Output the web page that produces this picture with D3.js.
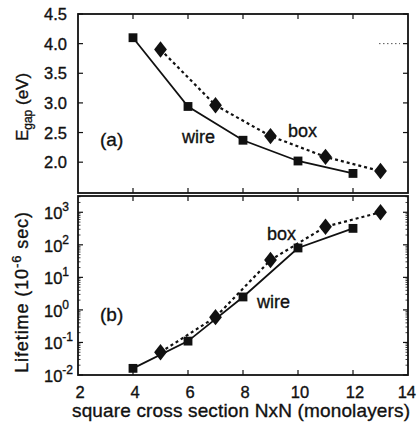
<!DOCTYPE html>
<html><head><meta charset="utf-8">
<script src="https://cdn.jsdelivr.net/npm/d3@7"></script>
<style>
html,body{margin:0;padding:0;background:#fff;}
text{font-family:"Liberation Sans",Arial,sans-serif;fill:#111;stroke:#111;stroke-width:0.35px;}
</style></head><body>
<svg id="c" width="417" height="422"></svg>
<script>
// Data
const wireN = [4, 6, 8, 10, 12];
const boxN = [5, 7, 9, 11, 13];
const wireGap = [4.10, 2.94, 2.37, 2.02, 1.81];
const boxGap = [3.90, 2.96, 2.44, 2.09, 1.85];
const wireLife = [0.016, 0.11, 2.5, 80, 320];
const boxLife = [0.05, 0.6, 34, 360, 1000];
const xTicks = [2, 4, 6, 8, 10, 12, 14];
const gapTicks = [2.0, 2.5, 3.0, 3.5, 4.0, 4.5];
const lifeExp = [-2, -1, 0, 1, 2, 3];

const svg = d3.select("#c");
const L = 78, R = 408;
const topA = 14, botA = 193, topB = 196, botB = 375;

const x = d3.scaleLinear().domain([2, 14]).range([L, R]);
const yA = d3.scaleLinear().domain([1.48, 4.5]).range([botA, topA]);
const yB = d3.scaleLog().domain([1e-2, Math.pow(10, 3.5)]).range([botB, topB]);

const ink = "#111";

function frame(t, b) {
  svg.append("rect").attr("x", L).attr("y", t).attr("width", R - L).attr("height", b - t)
    .attr("fill", "none").attr("stroke", ink).attr("stroke-width", 1.8);
}
frame(topA, botA);
frame(topB, botB);

function xt(t, b) {
  xTicks.slice(1, -1).forEach(v => {
    svg.append("line").attr("x1", x(v)).attr("x2", x(v)).attr("y1", b).attr("y2", b - 5).attr("stroke", ink).attr("stroke-width", 1.2);
    svg.append("line").attr("x1", x(v)).attr("x2", x(v)).attr("y1", t).attr("y2", t + 5).attr("stroke", ink).attr("stroke-width", 1.2);
  });
}
xt(topA, botA);
xt(topB, botB);

svg.selectAll(".xl").data(xTicks).enter().append("text")
  .attr("x", (d, i) => i === xTicks.length - 1 ? 416 : x(d) + 2).attr("y", 398)
  .attr("text-anchor", (d, i) => i === xTicks.length - 1 ? "end" : "middle")
  .attr("font-size", 16.5).text(d => d);
svg.append("text").attr("x", 72).attr("y", 417).attr("font-size", 19).attr("letter-spacing", 0.15)
  .text("square cross section NxN (monolayers)");

gapTicks.forEach(v => {
  svg.append("line").attr("x1", L).attr("x2", L + 5).attr("y1", yA(v)).attr("y2", yA(v)).attr("stroke", ink).attr("stroke-width", 1.2);
  svg.append("line").attr("x1", R).attr("x2", R - 5).attr("y1", yA(v)).attr("y2", yA(v)).attr("stroke", ink).attr("stroke-width", 1.2);
  svg.append("text").attr("x", 67).attr("y", yA(v) + 6).attr("text-anchor", "end")
    .attr("font-size", 16.5).text(d3.format(".1f")(v));
});
svg.append("text").attr("transform", "translate(28,107) rotate(-90)").attr("text-anchor", "middle")
  .attr("font-size", 17)
  .html('E<tspan font-size="12" dy="4">gap</tspan><tspan dy="-4"> (eV)</tspan>');

lifeExp.forEach(e => {
  const v = Math.pow(10, e);
  svg.append("line").attr("x1", L).attr("x2", L + 5).attr("y1", yB(v)).attr("y2", yB(v)).attr("stroke", ink).attr("stroke-width", 1.2);
  svg.append("line").attr("x1", R).attr("x2", R - 5).attr("y1", yB(v)).attr("y2", yB(v)).attr("stroke", ink).attr("stroke-width", 1.2);
  for (let m = 2; m <= 9; m++) {
    const mv = v * m;
    if (mv < Math.pow(10, 3.5)) {
      svg.append("line").attr("x1", L).attr("x2", L + 2.5).attr("y1", yB(mv)).attr("y2", yB(mv)).attr("stroke", ink).attr("stroke-width", 0.8);
      svg.append("line").attr("x1", R).attr("x2", R - 2.5).attr("y1", yB(mv)).attr("y2", yB(mv)).attr("stroke", ink).attr("stroke-width", 0.8);
    }
  }
  const t = svg.append("text").attr("x", 44).attr("y", yB(v) + 7).attr("font-size", 16.5);
  t.append("tspan").text("10");
  t.append("tspan").attr("font-size", 12).attr("dy", -8).text(e);
});
svg.append("text").attr("transform", "translate(28,292) rotate(-90)").attr("text-anchor", "middle")
  .attr("font-size", 18).attr("letter-spacing", 0.9)
  .html('Lifetime (10<tspan font-size="13" dy="-7">-6</tspan><tspan dy="7"> sec)</tspan>');

function series(xs, ys, yS, dashed, marker) {
  const pts = xs.map((d, i) => [x(d), yS(ys[i])]);
  svg.append("path").attr("d", d3.line()(pts)).attr("fill", "none").attr("stroke", ink)
    .attr("stroke-width", dashed ? 2.2 : 1.8).attr("stroke-dasharray", dashed ? "3,3" : null);
  const sym = marker === "sq" ? d3.symbol(d3.symbolSquare, 78) : d3.symbol(d3.symbolDiamond, 78);
  svg.selectAll(null).data(pts).enter().append("path")
    .attr("transform", d => marker === "sq" ? `translate(${d[0]},${d[1]})` : `translate(${d[0]},${d[1]}) scale(1.35,1)`)
    .attr("d", sym).attr("fill", ink);
}
series(wireN, wireGap, yA, false, "sq");
series(boxN, boxGap, yA, true, "di");
series(wireN, wireLife, yB, false, "sq");
series(boxN, boxLife, yB, true, "di");

svg.append("text").attr("x", 100).attr("y", 146).attr("font-size", 19).text("(a)");
svg.append("text").attr("x", 182).attr("y", 143).attr("font-size", 18).text("wire");
svg.append("text").attr("x", 288).attr("y", 137).attr("font-size", 18).text("box");
svg.append("text").attr("x", 100).attr("y", 321).attr("font-size", 19).text("(b)");
svg.append("text").attr("x", 267).attr("y", 240).attr("font-size", 18).text("box");
svg.append("text").attr("x", 257).attr("y", 308).attr("font-size", 18).text("wire");

svg.append("line").attr("x1", 379).attr("x2", 400).attr("y1", yA(4.0)).attr("y2", yA(4.0))
  .attr("stroke", "#555").attr("stroke-width", 1).attr("stroke-dasharray", "1.5,2.5");
</script></body></html>
